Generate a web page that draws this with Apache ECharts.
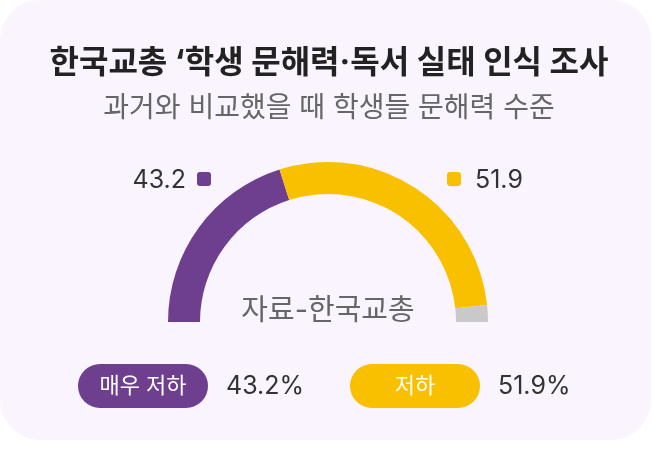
<!DOCTYPE html>
<html><head><meta charset="utf-8">
<script src="https://cdn.jsdelivr.net/npm/echarts@6/dist/echarts.min.js"></script>
<style>html,body{margin:0;padding:0;background:#fff;}#c{width:656px;height:464px;}</style>
</head><body><div id="c"></div>
<script>
const titleText = "한국교총 ‘학생 문해력·독서 실태 인식 조사";
const subtitleText = "과거와 비교했을 때 학생들 문해력 수준";
const sourceText = "자료-한국교총";
const categories = ["매우 저하", "저하"];
const values = [43.2, 51.9];
// arc shares as drawn in the picture (half-donut segments, incl. grey rest)
const arcNames = ["매우 저하", "저하", "기타"];
const arcShares = [40.2, 56.4, 3.4];
const colors = ["#6e3f8e", "#f9c000", "#c9c9c9"];

const FONT = "Inter, 'Noto Sans CJK KR', sans-serif";
const TFONT = "Inter, 'Noto Sans CJK KR', sans-serif";
const chart = echarts.init(document.getElementById('c'), null, {renderer: 'canvas'});

const pieData = arcShares.map((v, i) => ({name: arcNames[i], value: v, itemStyle: {color: colors[i]}}));

const graphics = [
  {type: 'rect', z: -10, shape: {x: 0, y: 0, width: 651, height: 440, r: 40}, style: {fill: '#f9f4fd'}},
  {type: 'text', x: 329, y: 63, style: {text: titleText, font: "bold 32px " + TFONT, fill: '#222222', align: 'center', verticalAlign: 'middle'}},
  {type: 'text', x: 329, y: 109, style: {text: subtitleText, font: "28px " + TFONT, fill: '#666666', align: 'center', verticalAlign: 'middle'}},
  {type: 'text', x: 328, y: 311, style: {text: sourceText, font: "29px " + TFONT, fill: '#666666', align: 'center', verticalAlign: 'middle'}},
  // top value labels with markers
  {type: 'text', x: 186, y: 180, style: {text: String(values[0]), font: "25px " + FONT, fill: '#333333', align: 'right', verticalAlign: 'middle'}},
  {type: 'rect', shape: {x: 197, y: 172, width: 14, height: 14, r: 3}, style: {fill: colors[0]}},
  {type: 'rect', shape: {x: 447, y: 172, width: 14, height: 14, r: 3}, style: {fill: colors[1]}},
  {type: 'text', x: 475, y: 180, style: {text: String(values[1]), font: "25px " + FONT, fill: '#333333', align: 'left', verticalAlign: 'middle'}},
  // legend pills
  {type: 'rect', shape: {x: 78, y: 364, width: 130, height: 44, r: 22}, style: {fill: colors[0]}},
  {type: 'text', x: 143, y: 386, style: {text: categories[0], font: "22px " + TFONT, fill: '#ffffff', align: 'center', verticalAlign: 'middle'}},
  {type: 'text', x: 226, y: 386, style: {text: values[0] + '%', font: "25px " + FONT, fill: '#333333', align: 'left', verticalAlign: 'middle'}},
  {type: 'rect', shape: {x: 350, y: 364, width: 130, height: 44, r: 22}, style: {fill: colors[1]}},
  {type: 'text', x: 415, y: 386, style: {text: categories[1], font: "22px " + TFONT, fill: '#ffffff', align: 'center', verticalAlign: 'middle'}},
  {type: 'text', x: 498, y: 386, style: {text: values[1] + '%', font: "25px " + FONT, fill: '#333333', align: 'left', verticalAlign: 'middle'}}
];

chart.setOption({
  backgroundColor: '#ffffff',
  animation: false,
  graphic: graphics,
  series: [{
    type: 'pie',
    center: [328, 322],
    radius: [128, 160],
    startAngle: 180,
    endAngle: 0,
    clockwise: true,
    label: {show: false},
    labelLine: {show: false},
    silent: true,
    itemStyle: {borderWidth: 0},
    data: pieData
  }]
});
</script></body></html>
